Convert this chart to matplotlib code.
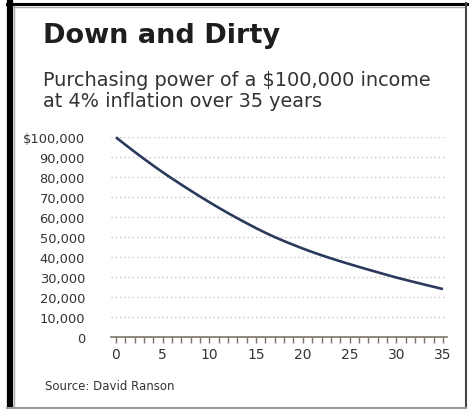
import matplotlib
matplotlib.use("Agg")
import matplotlib.pyplot as plt
from matplotlib.lines import Line2D
from matplotlib.ticker import FuncFormatter, MultipleLocator

# ---- data ----
years = list(range(0, 36))
purchasing_power = [
    100000, 96300, 92700, 89200, 85800, 82500, 79350, 76280, 73280, 70350,
    67500, 64720, 62040, 59450, 56940, 54500, 52180, 50020, 48020, 46120,
    44300, 42560, 40940, 39400, 37920, 36500, 35110, 33750, 32420, 31100,
    29800, 28600, 27430, 26280, 25140, 24000,
]
y_ticks = [0, 10000, 20000, 30000, 40000, 50000, 60000, 70000, 80000, 90000, 100000]
x_ticks = [0, 5, 10, 15, 20, 25, 30, 35]

title = "Down and Dirty"
subtitle_lines = ["Purchasing power of a $100,000 income", "at 4% inflation over 35 years"]
source = "Source: David Ranson"

W, H = 469, 410
fig = plt.figure(figsize=(W / 100, H / 100), dpi=100)
fig.patch.set_facecolor("white")

def fx(px):
    return px / W

def fy(py):
    return 1 - py / H

# axes placement (pixels)
ax_left, ax_right, ax_top, ax_bottom = 111.3, 446.7, 138.3, 338.0
ax = fig.add_axes([fx(ax_left), fy(ax_bottom), fx(ax_right - ax_left), (ax_bottom - ax_top) / H])
ax.set_xlim(-0.5, 35.4)
ax.set_ylim(0, 100000)

ax.plot(years, purchasing_power, color="#2b3a5c", lw=1.9, clip_on=False, zorder=3,
        solid_capstyle="butt", solid_joinstyle="round")

for v in y_ticks[1:]:
    ax.axhline(v, color="#bdbdbd", lw=0.9, ls=(0, (1, 2.4)), zorder=1)

for s in ["top", "right", "left"]:
    ax.spines[s].set_visible(False)
ax.spines["bottom"].set_color("#7c7468")
ax.spines["bottom"].set_linewidth(1.2)

ax.set_yticks(y_ticks)
ax.yaxis.set_major_formatter(FuncFormatter(
    lambda v, p: "$100,000" if v == 100000 else ("0" if v == 0 else f"{int(v):,}")))
ax.tick_params(axis="y", length=0, pad=19, labelsize=9.4, labelcolor="#333333")

ax.set_xticks(x_ticks)
ax.xaxis.set_minor_locator(MultipleLocator(1))
ax.tick_params(axis="x", which="both", direction="out", length=4, width=1,
               color="#7c7468", pad=3, labelsize=10, labelcolor="#333333")

fig.text(fx(43), fy(43), title, fontsize=19.5, fontweight="bold", color="#1e1e1e",
         va="baseline", ha="left")
fig.text(fx(43), fy(86), subtitle_lines[0], fontsize=13.9, color="#333333",
         va="baseline", ha="left")
fig.text(fx(43), fy(107), subtitle_lines[1], fontsize=13.9, color="#333333",
         va="baseline", ha="left")
fig.text(fx(45), fy(387), source, fontsize=8.5, color="#333333", va="center", ha="left")

# frame
fig.add_artist(Line2D([fx(10), fx(10)], [fy(4), fy(410)], transform=fig.transFigure,
                      color="black", lw=4.5))
fig.add_artist(Line2D([fx(7), fx(469)], [fy(5), fy(5)], transform=fig.transFigure,
                      color="black", lw=2.2))
fig.add_artist(Line2D([fx(13.5), fx(13.5)], [fy(7), fy(408)], transform=fig.transFigure,
                      color="#aaaaaa", lw=1.0))
fig.add_artist(Line2D([fx(13), fx(465)], [fy(8), fy(8)], transform=fig.transFigure,
                      color="#aaaaaa", lw=1.0))
fig.add_artist(Line2D([fx(465.5), fx(465.5)], [fy(4), fy(408)], transform=fig.transFigure,
                      color="#444444", lw=1.5))
fig.add_artist(Line2D([fx(7), fx(466)], [fy(408.5), fy(408.5)], transform=fig.transFigure,
                      color="#999999", lw=1.5))

fig.savefig("out.png", dpi=100, facecolor="white")
